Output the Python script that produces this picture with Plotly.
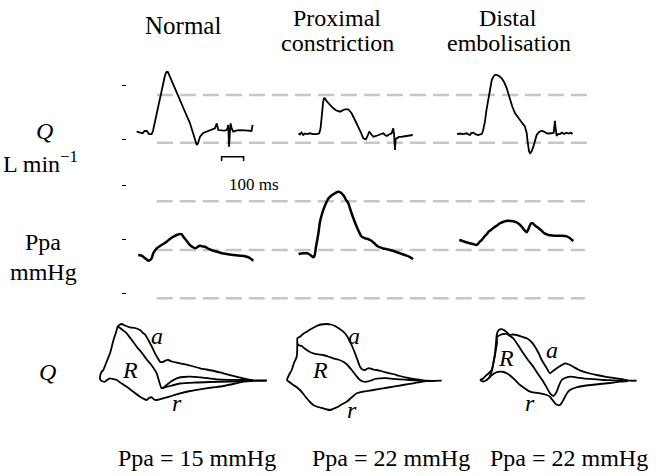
import plotly.graph_objects as go

W, H = 658, 476
FONT = "Liberation Serif"

# ---- pulmonary flow Q (L/min) vs time (ms), one trace per condition ----
normal_q_t = [4, 19, 31, 40, 50, 60, 72, 78, 87, 99, 110, 124, 133, 140, 146, 155, 178, 201, 224, 246,
              260, 269, 277, 283, 292, 306, 322, 337, 351, 360, 368, 371, 375, 392, 405, 413, 416, 420, 424, 428,
              431, 435, 443, 460, 474, 496, 519, 526, 531]
normal_q = [0.68, 0.58, 0.53, 0.74, 0.74, 0.46, 0.46, 0.74, 1.60, 2.69, 3.61, 5.0, 5.93, 6.23, 6.2, 5.77, 4.63, 3.61, 2.5, 1.48,
            0.56, -0.25, -0.56, -0.37, 0.21, 0.56, 0.68, 0.79, 0.93, 0.99, 1.45, 1.2, 0.83, 0.79, 0.77, 0.85, 0.93, 1.30, -0.71, 0.74,
            1.45, 1.02, 0.68, 0.79, 0.83, 0.79, 0.74, 0.74, 1.30]

prox_q_t = [0, 6, 13, 21, 29, 38, 52, 65, 82, 94, 100, 105, 111, 115, 120, 127, 135, 147, 158, 172,
            188, 200, 211, 226, 241, 256, 272, 284, 294, 306, 315, 321, 329, 340, 352, 362, 375, 385, 393, 401,
            411, 423, 430, 434, 438, 441, 446, 456, 469, 479, 491, 502, 519]
prox_q = [0.53, 0.42, 0.60, 0.37, 0.51, 0.46, 0.53, 0.46, 0.46, 0.53, 1.02, 2.38, 3.33, 3.77, 3.77, 3.52, 3.31, 3.06, 2.84, 2.64,
          2.53, 2.64, 2.75, 2.75, 2.38, 1.76, 1.14, 0.56, 0.06, -0.03, 0.37, 0.68, 0.46, 0.21, 0.28, 0.37, 0.46, 0.53, 0.37, 0.28,
          0.42, 0.53, 0.99, 0.46, -1.02, 0, 0.06, 0.19, 0.21, 0.23, 0.28, 0.32, 0.37]

dist_q_t = [0, 14, 27, 44, 52, 59, 66, 74, 86, 97, 105, 112, 118, 127, 134, 142, 150, 158, 166, 173,
            180, 191, 203, 214, 226, 234, 241, 252, 264, 275, 286, 298, 309, 317, 320, 324, 327, 332, 339, 347,
            355, 362, 373, 385, 395, 408, 418, 430, 439, 442, 445, 448, 453, 459, 468, 477, 486, 498, 509, 518, 525]
dist_q = [0.46, 0.51, 0.46, 0.53, 0.42, 0.37, 0.56, 0.58, 0.42, 0.37, 0.42, 0.46, 0.74, 1.60, 2.69, 3.61, 4.63, 5.46, 5.79, 5.93,
          5.93, 5.83, 5.62, 5.28, 4.69, 4.17, 3.61, 2.96, 2.38, 2.04, 1.76, 1.44, 1.14, 0.53, -0.09, -0.71, -1.11, -1.32, -1.16, -0.71,
          -0.09, 0.37, 0.65, 0.77, 0.69, 0.53, 0.51, 0.53, 0.56, 1.02, 1.69, 1.02, 0.28, 0.46, 0.46, 0.60, 0.46, 0.58, 0.51, 0.60, 0.46]

# ---- pulmonary artery pressure Ppa (mmHg) vs time (ms) ----
normal_p_t = [11, 24, 34, 46, 57, 65, 72, 80, 95, 110, 124, 140, 155, 169, 186, 201, 209, 216, 228, 237,
              246, 258, 269, 278, 287, 294, 301, 315, 328, 352, 374, 392, 413, 442, 474, 492, 504, 515, 524, 534]
normal_p = [7.04, 6.94, 6.72, 6.30, 5.98, 6.11, 6.43, 7.41, 8.28, 8.70, 9.07, 9.50, 10.0, 10.37, 10.74, 10.93, 10.87, 10.43, 9.81, 9.35,
            8.89, 8.52, 8.28, 8.43, 8.70, 8.74, 8.65, 8.57, 8.24, 7.83, 7.59, 7.35, 7.22, 7.04, 6.91, 6.85, 6.72, 6.57, 6.30, 5.98]

prox_p_t = [0, 11, 25, 37, 47, 56, 67, 72, 79, 90, 97, 105, 112, 125, 134, 143, 156, 170, 180, 188,
            196, 206, 215, 226, 233, 242, 252, 264, 275, 284, 293, 302, 315, 325, 332, 343, 352, 361, 370, 384,
            398, 416, 438, 461, 479, 491, 502, 511, 521]
prox_p = [7.22, 7.31, 7.35, 7.35, 7.22, 6.94, 6.61, 6.85, 8.52, 11.06, 13.15, 14.44, 15.37, 16.67, 17.41, 17.83, 18.24, 18.61, 18.76, 18.70,
          18.46, 17.96, 17.31, 16.61, 15.74, 14.63, 13.52, 12.28, 11.30, 10.56, 10.28, 10.13, 10.0, 9.81, 9.63, 9.26, 8.89, 8.61, 8.46, 8.24,
          8.15, 7.96, 7.69, 7.35, 7.09, 6.91, 6.72, 6.52, 6.30]

dist_p_t = [10, 23, 34, 44, 59, 73, 90, 95, 102, 112, 123, 136, 145, 158, 168, 182, 195, 209, 223, 233,
            245, 259, 271, 282, 294, 304, 317, 323, 330, 336, 344, 352, 362, 373, 386, 395, 408, 423, 445, 468,
            491, 505, 514, 523, 529]
dist_p = [9.81, 9.67, 9.50, 9.39, 9.20, 9.07, 8.89, 9.07, 9.44, 9.81, 10.37, 10.93, 11.39, 11.80, 12.13, 12.5, 12.91, 13.15, 13.33, 13.39,
          13.33, 13.24, 13.09, 12.78, 12.28, 11.76, 11.24, 11.67, 12.41, 12.87, 12.91, 12.59, 12.28, 11.94, 11.48, 11.11, 10.87, 10.69, 10.61, 10.59,
          10.56, 10.37, 10.13, 9.81, 9.63]

# ---- flow loops (arbitrary units): a, middle (R), r contours ----
normal_a_u = [1.93, 2.17, 2.5, 3.0, 3.5, 4.0, 4.3, 4.5, 4.83, 5.15, 5.5, 5.8, 6.0, 6.3, 6.6, 6.83, 7.2, 8.0, 9.0, 10.0,
              11.2, 12.33, 13.5, 14.33, 15.0, 15.33, 15.8, 16.67]
normal_a_v = [5.5, 5.6, 5.45, 5.27, 5.2, 5.0, 4.7, 4.55, 4.0, 3.4, 2.67, 2.15, 1.83, 1.8, 1.97, 2.0, 1.85, 1.67, 1.45, 1.17,
              0.95, 0.67, 0.37, 0.17, 0.02, -0.05, -0.03, -0.07]
normal_m_u = [1.83, 2.2, 2.67, 3.1, 3.67, 4.2, 4.6, 5.0, 5.35, 5.67, 5.9, 6.17, 6.35, 6.67, 7.1, 7.67, 8.3, 9.0, 10.0, 11.67,
              13.0, 14.33, 15.3]
normal_m_v = [5.33, 5.05, 4.67, 4.1, 3.33, 2.7, 2.15, 1.67, 1.2, 0.67, -0.1, -0.83, -0.75, -0.5, -0.15, 0.17, 0.3, 0.33, 0.27, 0.07,
              0.02, 0.0, -0.05]
normal_i_u = [6.2, 7.0, 8.0, 9.5, 11.0, 13.0, 14.8]
normal_i_v = [-0.83, -0.6, -0.35, -0.25, -0.2, -0.15, -0.08]
normal_r_u = [1.93, 1.75, 1.67, 1.35, 1.0, 0.65, 0.33, 0.15, 0.0, 0.05, 0.3, 0.5, 0.7, 1.0, 1.3, 1.67, 2.1, 2.67, 3.3, 4.0,
              4.4, 4.67, 4.9, 5.17, 5.4, 5.67, 6.1, 6.67, 7.3, 8.0, 9.0, 10.0, 11.2, 12.33, 13.5, 14.33, 15.0, 15.6, 16.67]
normal_r_v = [5.5, 5.3, 5.0, 4.0, 2.67, 1.8, 1.0, 0.8, 0.3, 0.0, -0.15, -0.17, 0.0, 0.17, 0.1, 0.0, -0.3, -0.67, -1.15, -1.67,
              -1.9, -2.0, -1.8, -1.73, -1.95, -2.0, -1.9, -1.73, -1.55, -1.33, -1.1, -0.93, -0.75, -0.6, -0.35, -0.15, -0.1, -0.08, -0.05]

prox_a_u = [1.03, 1.05, 1.3, 1.6, 1.97, 2.4, 2.97, 3.4, 3.97, 4.4, 4.8, 5.2, 5.63, 6.0, 6.3, 6.55, 6.8, 7.05, 7.3, 7.55,
            7.8, 8.05, 8.3, 8.6, 8.97, 9.4, 9.97, 10.6, 11.3, 12.1, 12.97, 13.97, 15.47]
prox_a_v = [3.67, 4.2, 4.33, 4.6, 4.83, 5.1, 5.4, 5.55, 5.6, 5.55, 5.4, 5.15, 4.83, 4.4, 3.83, 3.3, 2.67, 2.0, 1.33, 1.05,
            1.0, 1.15, 1.17, 1.05, 1.0, 0.9, 0.73, 0.6, 0.4, 0.22, 0.07, -0.07, -0.07]
prox_m_u = [1.03, 1.13, 1.47, 1.7, 1.97, 2.3, 2.63, 3.1, 3.63, 4.1, 4.63, 5.1, 5.63, 6.0, 6.47, 6.9, 7.3, 7.6, 7.97, 8.4,
            8.8, 9.3, 9.9, 10.6, 11.3, 12.3, 13.3]
prox_m_v = [3.67, 3.5, 3.4, 3.2, 3.0, 2.8, 2.67, 2.57, 2.5, 2.35, 2.17, 2.05, 1.83, 1.55, 1.0, 0.45, 0.0, -0.15, -0.17, -0.05,
            0.1, 0.17, 0.18, 0.12, 0.07, 0.0, -0.07]
prox_r_u = [1.03, 0.97, 0.7, 0.47, 0.2, 0.0, 0.3, 0.63, 0.95, 1.3, 1.6, 1.97, 2.3, 2.63, 3.1, 3.63, 4.0, 4.3, 4.7, 5.13,
            5.55, 5.97, 6.45, 6.97, 7.7, 8.63, 9.6, 10.63, 11.6, 12.63, 13.3, 13.97, 14.8]
prox_r_v = [3.67, 2.33, 1.7, 1.0, 0.5, 0.0, -0.25, -0.5, -0.7, -1.0, -1.35, -1.83, -2.2, -2.5, -2.7, -2.83, -2.95, -3.0, -2.85, -2.67,
            -2.4, -2.17, -1.75, -1.33, -1.15, -1.0, -0.83, -0.67, -0.5, -0.33, -0.2, -0.1, -0.08]

dist_a_u = [0.0, 0.3, 0.67, 0.95, 1.17, 1.35, 1.5, 1.6, 1.67, 1.8, 2.0, 2.25, 2.5, 2.75, 3.0, 3.3, 3.67, 4.15, 4.67, 5.1,
            5.5, 5.85, 6.17, 6.6, 7.0, 7.3, 7.67, 8.1, 8.5, 8.9, 9.33, 9.8, 10.33, 11.0, 11.67, 12.6, 13.67, 14.3, 15.0, 15.67]
dist_a_v = [0.0, 0.15, 0.5, 0.75, 1.0, 1.8, 2.67, 3.7, 4.5, 4.9, 5.07, 5.07, 4.93, 4.7, 4.5, 4.55, 4.5, 4.35, 4.17, 3.85,
            3.33, 2.7, 2.0, 1.3, 0.67, 0.9, 1.17, 1.45, 1.67, 1.55, 1.33, 1.05, 0.83, 0.65, 0.5, 0.32, 0.17, 0.05, -0.07, -0.07]
dist_m_u = [0.9, 1.15, 1.35, 1.55, 1.7, 1.7, 2.0, 2.35, 2.67, 3.0, 3.33, 3.8, 4.33, 4.8, 5.33, 5.8, 6.33, 6.7, 7.0, 7.33,
            7.5, 7.67, 7.9, 8.17, 8.5, 9.0, 9.6, 10.33, 11.3, 12.33, 13.3, 14.33]
dist_m_v = [0.2, 0.8, 1.7, 2.8, 3.7, 4.3, 4.5, 4.6, 4.6, 4.4, 4.17, 3.5, 2.67, 2.0, 1.33, 0.6, -0.17, -0.8, -1.33, -1.6,
            -1.45, -1.17, -0.55, 0.0, 0.2, 0.33, 0.27, 0.17, 0.08, 0.0, -0.03, -0.07]
dist_r_u = [0.0, 0.3, 0.6, 0.9, 1.2, 1.6, 2.0, 2.35, 2.67, 3.0, 3.33, 3.65, 4.0, 4.5, 5.0, 5.5, 6.0, 6.67, 7.0, 7.25,
            7.5, 7.75, 8.0, 8.25, 8.5, 8.75, 9.0, 9.6, 10.33, 11.1, 12.0, 13.0, 14.0, 14.8]
dist_r_v = [0.0, -0.15, -0.05, 0.2, 0.5, 0.75, 0.83, 0.8, 0.67, 0.45, 0.17, -0.15, -0.5, -0.85, -1.17, -1.27, -1.33, -1.5, -1.67, -2.0,
            -2.33, -2.5, -2.5, -2.15, -1.67, -1.25, -1.0, -0.75, -0.6, -0.5, -0.4, -0.3, -0.17, -0.1]

mean_ppa = [15, 22, 22]
q_ticks = [0, 5]
p_ticks = [0, 10, 20]
q_ref = [4.07, -0.34]
p_ref = [17.0, 7.96, -0.98]
scale_bar_ms = 100

# where each condition sits along the strips
col_t0 = [40, 780, 1500]        # ms
col_u0 = [10.0, 28.7, 48.0]     # loop units


def fx(px):
    return px / W


def fy(py):
    return 1 - py / H


fig = go.Figure()


def add_line(x, y, xa, ya, width=2.0, shape="linear"):
    fig.add_trace(go.Scatter(x=x, y=y, xaxis=xa, yaxis=ya, mode="lines", hoverinfo="skip",
                             line=dict(color="black", width=width, shape=shape, smoothing=0.6)))


q_sets = [(normal_q_t, normal_q), (prox_q_t, prox_q), (dist_q_t, dist_q)]
p_sets = [(normal_p_t, normal_p), (prox_p_t, prox_p), (dist_p_t, dist_p)]
for i, (t, q) in enumerate(q_sets):
    add_line([v + col_t0[i] for v in t], q, "x", "y", 1.8)
for i, (t, p) in enumerate(p_sets):
    add_line([v + col_t0[i] for v in t], p, "x2", "y2", 2.5, "spline")

loop_sets = [
    [(normal_a_u, normal_a_v), (normal_m_u, normal_m_v), (normal_i_u, normal_i_v), (normal_r_u, normal_r_v)],
    [(prox_a_u, prox_a_v), (prox_m_u, prox_m_v), (prox_r_u, prox_r_v)],
    [(dist_a_u, dist_a_v), (dist_m_u, dist_m_v), (dist_r_u, dist_r_v)],
]
for i, curves in enumerate(loop_sets):
    for u, v in curves:
        add_line([a + col_u0[i] for a in u], v, "x3", "y3", 1.8, "spline")

# 100 ms scale bar
sb_t, sb_q, sb_d = 430, -1.64, 0.4
add_line([sb_t, sb_t, sb_t + scale_bar_ms, sb_t + scale_bar_ms],
         [sb_q - sb_d, sb_q, sb_q, sb_q - sb_d], "x", "y", 1.5)

# dashed reference levels
dash = dict(color="#c6c6c6", width=2.5, dash="16px,7px")
shapes = []
for lv in q_ref:
    shapes.append(dict(type="line", xref="x", yref="y", x0=136, x1=2091, y0=lv, y1=lv, line=dash, layer="below"))
for lv in p_ref:
    shapes.append(dict(type="line", xref="x2", yref="y2", x0=135, x1=2082, y0=lv, y1=lv, line=dash, layer="below"))


def note(text, px, py, size=24):
    return dict(x=fx(px), y=fy(py), xref="paper", yref="paper", text=text, showarrow=False,
                xanchor="center", yanchor="middle",
                font=dict(family=FONT, size=size, color="black"))


ann = [
    note("Normal", 183, 25, 25),
    note("Proximal", 337, 18, 24), note("constriction", 337, 43, 24),
    note("Distal", 508, 18, 24), note("embolisation", 509, 43, 24),
    note("<i>Q</i>", 44, 131), note("L min<sup>\u22121</sup>", 40, 162),
    note("Ppa", 43, 242), note("mmHg", 43, 272),
    note("<i>Q</i>", 47, 372),
    note("100 ms", 254, 185, 17),
    note("<i>a</i>", 157, 336), note("<i>R</i>", 130, 370), note("<i>r</i>", 177, 403),
    note("<i>a</i>", 354, 336), note("<i>R</i>", 320, 370), note("<i>r</i>", 352, 410),
    note("<i>a</i>", 552, 350), note("<i>R</i>", 506, 358), note("<i>r</i>", 530, 403),
]
for i, m in enumerate(mean_ppa):
    ann.append(note(f"Ppa = {m} mmHg", [197, 391, 569][i], 458, 24))

hidden = dict(visible=False, showgrid=False, zeroline=False)
tick_axis = dict(anchor="free", position=fx(126), ticks="outside", ticklen=4, tickwidth=1, tickcolor="black",
                 showticklabels=False, showgrid=False, zeroline=False, showline=False)

fig.update_layout(
    width=W, height=H, margin=dict(l=0, r=0, t=0, b=0),
    paper_bgcolor="white", plot_bgcolor="white", showlegend=False,
    xaxis=dict(domain=[fx(127), 1], range=[0, 2413.6], anchor="y", **hidden),
    yaxis=dict(domain=[fy(165), fy(60)], range=[-2.407, 7.315], tickvals=q_ticks, **tick_axis),
    xaxis2=dict(domain=[fx(127), 1], range=[0, 2413.6], anchor="y2", **hidden),
    yaxis2=dict(domain=[fy(305), fy(180)], range=[-2.222, 20.926], tickvals=p_ticks, **tick_axis),
    xaxis3=dict(domain=[0, 1], range=[0, 65.8], anchor="y3", **hidden),
    yaxis3=dict(domain=[fy(420), fy(315)], range=[-4.0, 6.5], anchor="x3", **hidden),
    shapes=shapes, annotations=ann,
)

# drop the default page margin so the figure sits at the window's top-left corner
fig.write_html("out.html", config={"displayModeBar": False},
               post_script="document.body.style.margin='0';")
